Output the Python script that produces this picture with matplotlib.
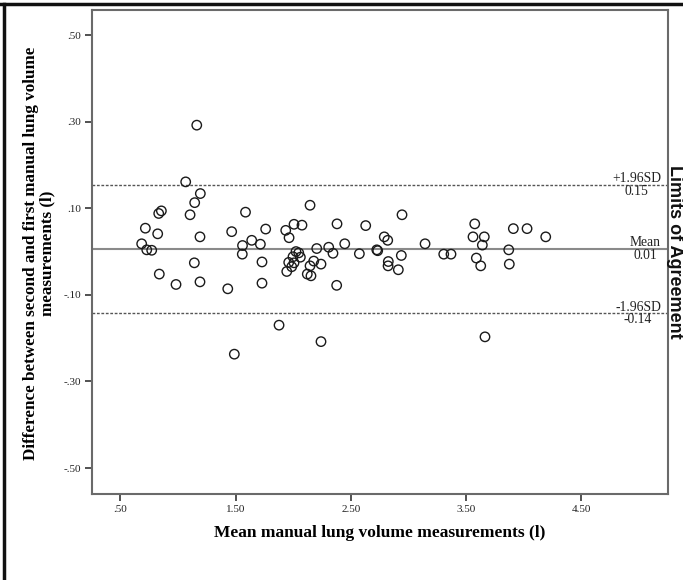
import matplotlib
matplotlib.use("Agg")
import matplotlib.pyplot as plt
from matplotlib.ticker import FuncFormatter
from matplotlib.lines import Line2D

# Data
mean_vol = [1.163, 1.067, 1.194, 1.145, 0.856, 0.833, 1.105, 1.586, 0.717, 0.824,
            1.191, 1.466, 0.685, 0.729, 0.772, 1.560, 1.558, 1.142, 0.838, 0.983,
            1.191, 1.432, 1.877, 2.241, 1.489, 3.664, 2.146, 2.944, 1.761, 1.935,
            1.964, 2.007, 2.076, 2.380, 2.629, 2.790, 2.820, 1.640, 1.715, 2.024,
            2.048, 1.998, 2.062, 2.204, 2.308, 2.345, 2.447, 2.574, 2.725, 2.733,
            1.729, 1.961, 2.007, 1.987, 1.944, 2.178, 2.241, 2.146, 2.122, 2.154,
            2.825, 2.823, 2.912, 2.938, 1.729, 2.377, 3.575, 3.910, 4.029, 3.560,
            3.658, 4.191, 3.144, 3.641, 3.870, 3.306, 3.369, 3.589, 3.627, 3.875]
diff_vol = [0.292, 0.161, 0.134, 0.113, 0.094, 0.088, 0.085, 0.091, 0.054, 0.041,
            0.034, 0.046, 0.018, 0.004, 0.003, 0.014, -0.006, -0.026, -0.052, -0.076,
            -0.070, -0.086, -0.170, -0.208, -0.237, -0.197, 0.107, 0.085, 0.052, 0.049,
            0.032, 0.063, 0.061, 0.064, 0.060, 0.034, 0.026, 0.026, 0.017, 0.000,
            -0.003, -0.012, -0.013, 0.007, 0.010, -0.004, 0.018, -0.005, 0.004, 0.002,
            -0.024, -0.025, -0.026, -0.035, -0.046, -0.022, -0.029, -0.033, -0.052, -0.056,
            -0.023, -0.033, -0.042, -0.009, -0.073, -0.078, 0.064, 0.053, 0.053, 0.034,
            0.034, 0.034, 0.018, 0.015, 0.004, -0.006, -0.006, -0.015, -0.033, -0.029]
mean_line = 0.006
upper_loa = 0.154
lower_loa = -0.143
loa_labels = ["+1.96SD\n0.15", "Mean\n0.01", "-1.96SD\n-0.14"]
x_ticks = [0.5, 1.5, 2.5, 3.5, 4.5]
y_ticks = [0.5, 0.3, 0.1, -0.1, -0.3, -0.5]

serif = ["Liberation Serif", "DejaVu Serif"]

fig = plt.figure(figsize=(6.83, 5.80), dpi=100)
ax = fig.add_axes([92/683, 1-494/580, (668-92)/683, (494-10)/580])

ax.scatter(mean_vol, diff_vol, s=46, facecolors="none", edgecolors="#1a1a1a",
           linewidths=1.0, zorder=3)

ax.axhline(mean_line, color="#8a8a8a", lw=1.5, zorder=2)
for v in (upper_loa, lower_loa):
    ax.axhline(v, color="#555555", lw=1.0, linestyle=(0, (2.0, 1.2)), zorder=2)

ax.set_xlim(0.254, 5.252)
ax.set_ylim(-0.560, 0.558)
ax.set_xticks(x_ticks)
ax.set_yticks(y_ticks)

def fmt(v, pos):
    s = f"{v:.2f}"
    if s.startswith("0."):
        s = s[1:]
    elif s.startswith("-0."):
        s = "-" + s[2:]
    return s
ax.xaxis.set_major_formatter(FuncFormatter(fmt))
ax.yaxis.set_major_formatter(FuncFormatter(fmt))
for lab in ax.get_xticklabels() + ax.get_yticklabels():
    lab.set_fontfamily(serif)
    lab.set_fontsize(8)
    lab.set_color("#222222")
ax.tick_params(direction="out", length=5, width=1.2, color="#333333", pad=3)

for sp in ax.spines.values():
    sp.set_color("#6a6a6a")
    sp.set_linewidth(1.5)

fig.text(380/683, 1-533/580, "Mean manual lung volume measurements (l)",
         fontfamily=serif, fontweight="bold", fontsize=12.5, ha="center", va="center")
fig.text(39/683, 1-253/580,
         "Difference between second and first manual lung volume\nmeasurements (l)",
         fontfamily=serif, fontweight="bold", fontsize=12.3, rotation=90,
         ha="center", va="center", multialignment="center", linespacing=1.0)

for v, lab in zip([upper_loa, mean_line, lower_loa], loa_labels):
    ax.annotate(lab, xy=(1.0, v), xycoords=("axes fraction", "data"),
                xytext=(-5, 0), textcoords="offset points", ha="right",
                va="center", multialignment="center", fontfamily=serif,
                fontsize=9.8, color="#222222", linespacing=0.95)

fig.text(675/683, 1-252/580, "Limits of Agreement", rotation=-90, ha="center",
         va="center", fontfamily=["Liberation Sans", "DejaVu Sans"],
         fontweight="bold", fontsize=13, color="#111111")

# figure frame lines (top and left)
fig.add_artist(Line2D([0, 1], [1-3.5/580, 1-3.5/580], transform=fig.transFigure,
                      color="#111111", lw=2.5))
fig.add_artist(Line2D([3.5/683, 3.5/683], [0, 1-3.5/580], transform=fig.transFigure,
                      color="#111111", lw=2.5))

fig.savefig("out.png", dpi=100)
